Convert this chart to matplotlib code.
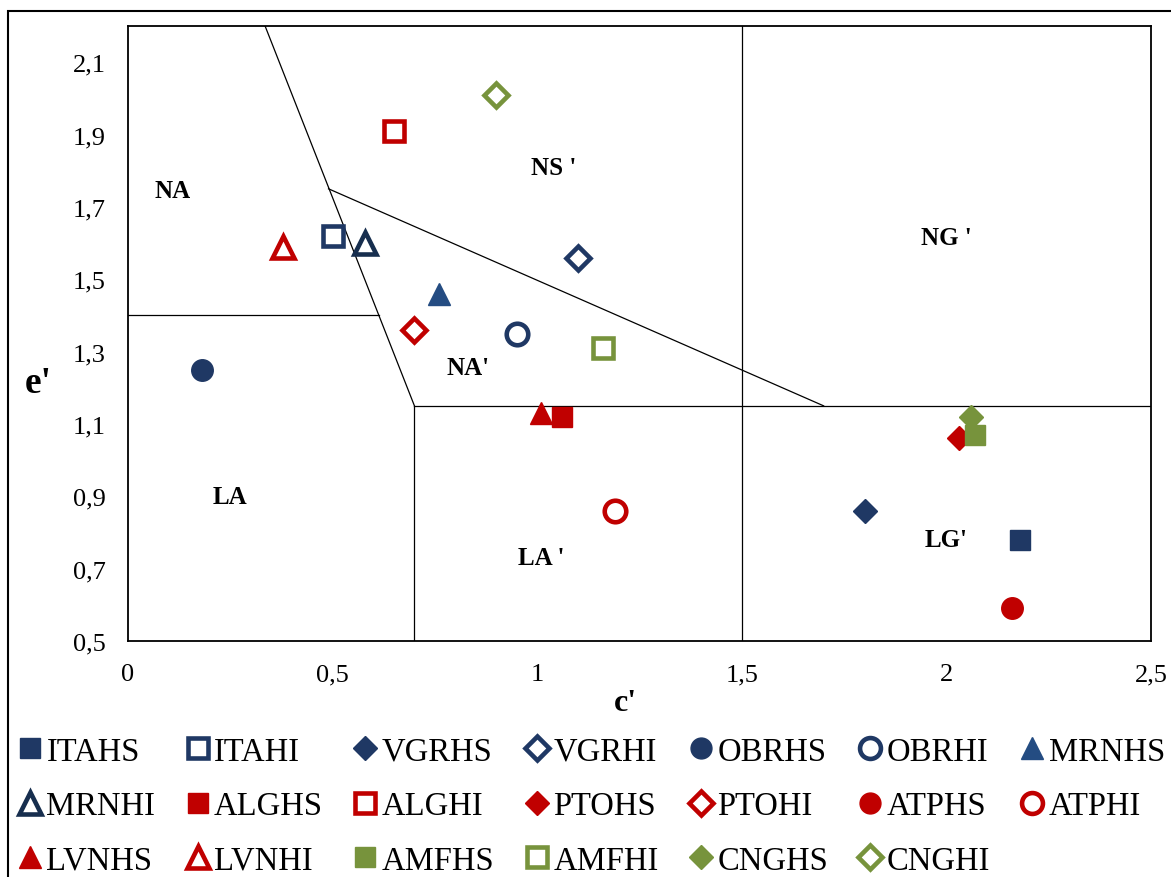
import matplotlib.pyplot as plt
from matplotlib.lines import Line2D
from matplotlib.patches import Rectangle

plt.rcParams['font.family'] = ['Liberation Serif', 'DejaVu Serif']

# data: (c', e') per site
names = ['ITAHS', 'ITAHI', 'VGRHS', 'VGRHI', 'OBRHS', 'OBRHI', 'MRNHS',
         'MRNHI', 'ALGHS', 'ALGHI', 'PTOHS', 'PTOHI', 'ATPHS', 'ATPHI',
         'LVNHS', 'LVNHI', 'AMFHS', 'AMFHI', 'CNGHS', 'CNGHI']
c_vals = [2.18, 0.50, 1.80, 1.10, 0.18, 0.95, 0.76,
          0.58, 1.06, 0.65, 2.03, 0.70, 2.16, 1.19,
          1.01, 0.38, 2.07, 1.16, 2.06, 0.90]
e_vals = [0.78, 1.62, 0.86, 1.56, 1.25, 1.35, 1.46,
          1.60, 1.12, 1.91, 1.06, 1.36, 0.59, 0.86,
          1.13, 1.59, 1.07, 1.31, 1.12, 2.01]

navy = '#1F3864'
blue = '#244C82'
red = '#C00000'
green = '#77933C'

styles = [
    ('s', navy, True), ('s', navy, False), ('D', navy, True), ('D', navy, False),
    ('o', navy, True), ('o', navy, False), ('^', blue, True),
    ('^', '#172E4E', False), ('s', red, True), ('s', red, False), ('D', red, True),
    ('D', red, False), ('o', red, True), ('o', red, False),
    ('^', red, True), ('^', red, False), ('s', green, True), ('s', green, False),
    ('D', green, True), ('D', green, False),
]

fig = plt.figure(figsize=(11.71, 8.78), dpi=100)
fig.patch.set_facecolor('white')
# outer chart border
fig.add_artist(Rectangle((8 / 1171, -0.01), 1.02, 1 - 12 / 878 + 0.01,
                         transform=fig.transFigure, fill=False,
                         edgecolor='black', linewidth=1.5))

ax = fig.add_axes([128 / 1171, 1 - 642 / 878, (1151 - 128) / 1171, (642 - 27) / 878])
ax.set_xlim(0, 2.5)
ax.set_ylim(0.5, 2.2)

# region boundaries
lk = dict(color='black', linewidth=0.9, zorder=1)
ax.plot([0.335, 0.7], [2.2, 1.15], **lk)
ax.plot([0.49, 1.7], [1.75, 1.15], **lk)
ax.plot([0, 0.613], [1.4, 1.4], **lk)
ax.plot([0.7, 2.5], [1.15, 1.15], **lk)
ax.plot([0.7, 0.7], [0.5, 1.15], **lk)
ax.plot([1.5, 1.5], [0.5, 2.2], **lk)

sizes = {'s': 15, 'D': 12.5, 'o': 15.5, '^': 16}
handles = []
for n, cx, ey, (m, col, filled) in zip(names, c_vals, e_vals, styles):
    kw = dict(marker=m, markersize=sizes[m], markeredgecolor=col,
              markerfacecolor=col if filled else 'white',
              markeredgewidth=1 if filled else 3.3, linestyle='none')
    ax.plot([cx], [ey], zorder=3, **kw)
    kw['markersize'] = sizes[m] * 0.97
    handles.append(Line2D([], [], label=n, **kw))

# region labels
regions = [('NA', 0.11, 1.745), ('NS \'', 1.04, 1.81), ('NG \'', 2.0, 1.615),
           ("NA'", 0.83, 1.255), ('LA', 0.25, 0.9), ('LA \'', 1.01, 0.73),
           ("LG'", 2.0, 0.78)]
for t, x, y in regions:
    ax.text(x, y, t, fontsize=18, fontweight='bold', ha='center', va='center')

ax.set_xticks([0, 0.5, 1, 1.5, 2, 2.5])
ax.set_xticklabels(['0', '0,5', '1', '1,5', '2', '2,5'])
ax.set_yticks([0.5, 0.7, 0.9, 1.1, 1.3, 1.5, 1.7, 1.9, 2.1])
ax.set_yticklabels(['0,5', '0,7', '0,9', '1,1', '1,3', '1,5', '1,7', '1,9', '2,1'])
ax.tick_params(length=0, labelsize=19, pad=16)
for s in ax.spines.values():
    s.set_linewidth(1.3)

ax.set_xlabel("c'", fontsize=23, fontweight='bold', va='center')
ax.xaxis.set_label_coords(0.486, -0.1)
ax.set_ylabel("e'", fontsize=27, fontweight='bold', rotation=0, va='center')
ax.yaxis.set_label_coords(-0.088, 0.42)

# legend laid out row by row like the original (matplotlib fills by column)
order = [i for j in range(7) for i in (j, j + 7, j + 14) if i < 20]
fig.legend(handles=[handles[i] for i in order], loc='upper left',
           bbox_to_anchor=(4 / 1171, 1 - 724 / 878),
           ncol=7, frameon=False, fontsize=23.5, handletextpad=0.1,
           columnspacing=0.9, labelspacing=0.74, handlelength=0.8,
           borderaxespad=0)

fig.savefig('out.png', dpi=100)
